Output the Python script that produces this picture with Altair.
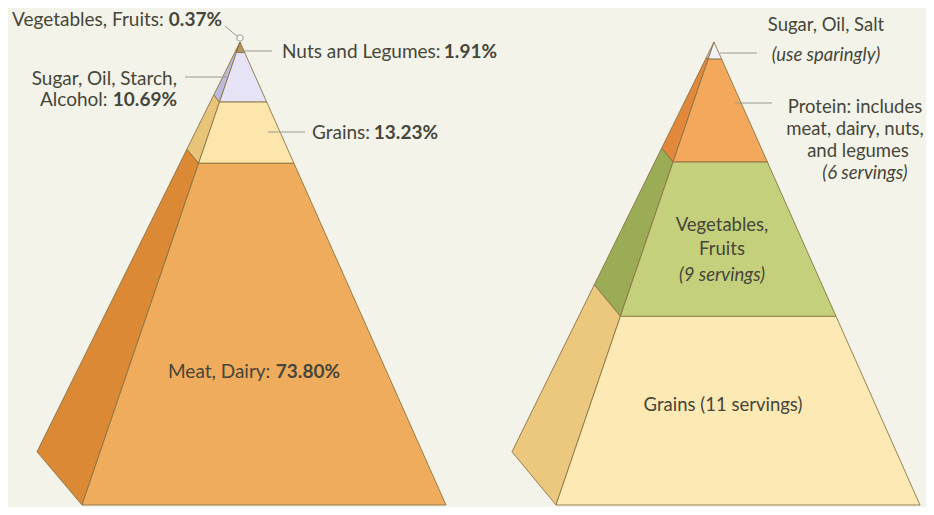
import altair as alt
import pandas as pd

# ---------------- data ----------------
# Left pyramid: share (percent), apex -> base
left_categories = ["Vegetables, Fruits", "Nuts and Legumes", "Sugar, Oil, Starch, Alcohol", "Grains", "Meat, Dairy"]
left_percent = [0.37, 1.91, 10.69, 13.23, 73.80]

# Right pyramid: recommended servings, apex -> base (sugar tip)
right_categories = ["Sugar, Oil, Salt", "Protein", "Vegetables, Fruits", "Grains"]
right_servings = [1, 6, 9, 11]

# palettes (front face / side face)
left_front_colors = ["#fbfbf4", "#b39760", "#e5e3f5", "#fde6ac", "#f0ac5d"]
left_side_colors = ["#e6e4d8", "#977c46", "#bdb9dc", "#e8c37a", "#dc8936"]
right_front_colors = ["#f1f1f7", "#f3a85b", "#c4d07b", "#fde9b3"]
right_side_colors = ["#d2d2e0", "#e2883a", "#9cab55", "#ecc77e"]

# ---------------- layout ----------------
W, H = 918, 499
Y_APEX, Y_BASE = 42, 505
BACK_FRAC = 0.885
BACK_Y = Y_APEX + BACK_FRAC * (Y_BASE - Y_APEX)

pyramids = [
    ("left", left_percent, left_front_colors, left_side_colors, 240, 82, 446, 37),
    ("right", right_servings, right_front_colors, right_side_colors, 714, 556, 920, 512),
]

rows = []
for name, vals, fcols, scols, ax, bl, br, bk in pyramids:
    total = float(sum(vals))

    def pt(t, bx, by, ax=ax):
        return (ax + t * (bx - ax), Y_APEX + t * (by - Y_APEX))

    cum = 0.0
    for i, v in enumerate(vals):
        t0 = cum / total
        cum += v
        t1 = cum / total
        L0, L1 = pt(t0, bl, Y_BASE), pt(t1, bl, Y_BASE)
        R0, R1 = pt(t0, br, Y_BASE), pt(t1, br, Y_BASE)
        S0, S1 = pt(t0, bk, BACK_Y), pt(t1, bk, BACK_Y)
        for face, verts, col in (("a_side", [L0, S0, S1, L1, L0], scols[i]),
                                 ("b_front", [L0, R0, R1, L1, L0], fcols[i])):
            pid = f"{name}-{face}-{i}"
            for k, (x, y) in enumerate(verts):
                rows.append({"poly": pid, "ord": k, "x": x, "y": y, "fill": col})

poly_df = pd.DataFrame(rows)

xs = alt.Scale(domain=[8, 8 + W], nice=False, zero=False)
ys = alt.Scale(domain=[8, 8 + H], nice=False, zero=False, reverse=True)

polys = alt.Chart(poly_df).mark_line(
    stroke="#86703f", strokeWidth=1, strokeJoin="round", strokeOpacity=0.85
).encode(
    x=alt.X("x:Q", scale=xs, axis=None),
    y=alt.Y("y:Q", scale=ys, axis=None),
    detail="poly:N",
    order="ord:Q",
    fill=alt.Fill("fill:N", scale=None, legend=None),
)

# leader lines
leader_x = [225, 244, 185, 268, 720, 735]
leader_y = [26, 51, 77, 132, 53, 103]
leader_x2 = [238, 272, 228, 305, 757, 772]
leader_y2 = [37, 51, 77, 132, 53, 103]
lead_df = pd.DataFrame({"x": leader_x, "y": leader_y, "x2": leader_x2, "y2": leader_y2})
leaders = alt.Chart(lead_df).mark_rule(color="#9a9a92", strokeWidth=1).encode(
    x=alt.X("x:Q", scale=xs, axis=None), y=alt.Y("y:Q", scale=ys, axis=None),
    x2="x2:Q", y2="y2:Q")

# small marker for the tiny top band
marker = alt.Chart(pd.DataFrame({"x": [240], "y": [38]})).mark_point(
    filled=True, fill="#ffffff", stroke="#9a9a92", strokeWidth=1, size=40, opacity=1
).encode(x=alt.X("x:Q", scale=xs, axis=None), y=alt.Y("y:Q", scale=ys, axis=None))

# labels
label_text = [
    "Vegetables, Fruits:", "0.37%",
    "Nuts and Legumes:", "1.91%",
    "Sugar, Oil, Starch,", "Alcohol:", "10.69%",
    "Grains:", "13.23%",
    "Meat, Dairy:", "73.80%",
    "Sugar, Oil, Salt", "(use sparingly)",
    "Protein:  includes", "meat, dairy, nuts,", "and legumes", "(6 servings)",
    "Vegetables,", "Fruits", "(9 servings)",
    "Grains (11 servings)",
]
label_x = [12, 222, 282, 497, 177, 40, 177, 312, 438, 168, 340,
           826, 826, 855, 855, 858, 865, 722, 722, 722, 723]
label_y = [20, 20, 52, 52, 79, 100, 100, 133, 133, 372, 372,
           25, 55, 107, 129, 151, 173, 225, 249, 275, 405]
label_align = ["left", "right", "left", "right", "right", "left", "right", "left", "right", "left", "right",
               "center", "center", "center", "center", "center", "center", "center", "center", "center", "center"]
label_weight = ["normal", "bold", "normal", "bold", "normal", "normal", "bold", "normal", "bold", "normal", "bold",
                "normal", "normal", "normal", "normal", "normal", "normal", "normal", "normal", "normal", "normal"]
label_style = ["normal"] * 12 + ["italic"] + ["normal"] * 3 + ["italic"] + ["normal"] * 2 + ["italic"] + ["normal"]
label_size = [19] * 11 + [18.5] * 10

lab_df = pd.DataFrame({"text": label_text, "x": label_x, "y": label_y, "sz": label_size,
                       "al": label_align, "wt": label_weight, "st": label_style})

texts = []
for al in ["left", "right", "center"]:
    for wt in ["normal", "bold"]:
        for st in ["normal", "italic"]:
            sub = lab_df[(lab_df["al"] == al) & (lab_df["wt"] == wt) & (lab_df["st"] == st)]
            if len(sub) == 0:
                continue
            sub = sub[["text", "x", "y", "sz"]].reset_index(drop=True)
            texts.append(
                alt.Chart(sub).mark_text(
                    align=al, baseline="middle", font="Lato",
                    fontWeight=wt, fontStyle=st, color="#46463a"
                ).encode(x=alt.X("x:Q", scale=xs, axis=None), y=alt.Y("y:Q", scale=ys, axis=None),
                         text="text:N",
                         size=alt.Size("sz:Q", scale=None, legend=None))
            )

chart = alt.layer(polys, leaders, marker, *texts).properties(
    width=W, height=H, autosize=alt.AutoSizeParams(type="none"), padding=0,
    background="#f3f3e9",
).configure_view(stroke=None)

chart.save("out.html", embed_options={"renderer": "svg", "actions": False})
